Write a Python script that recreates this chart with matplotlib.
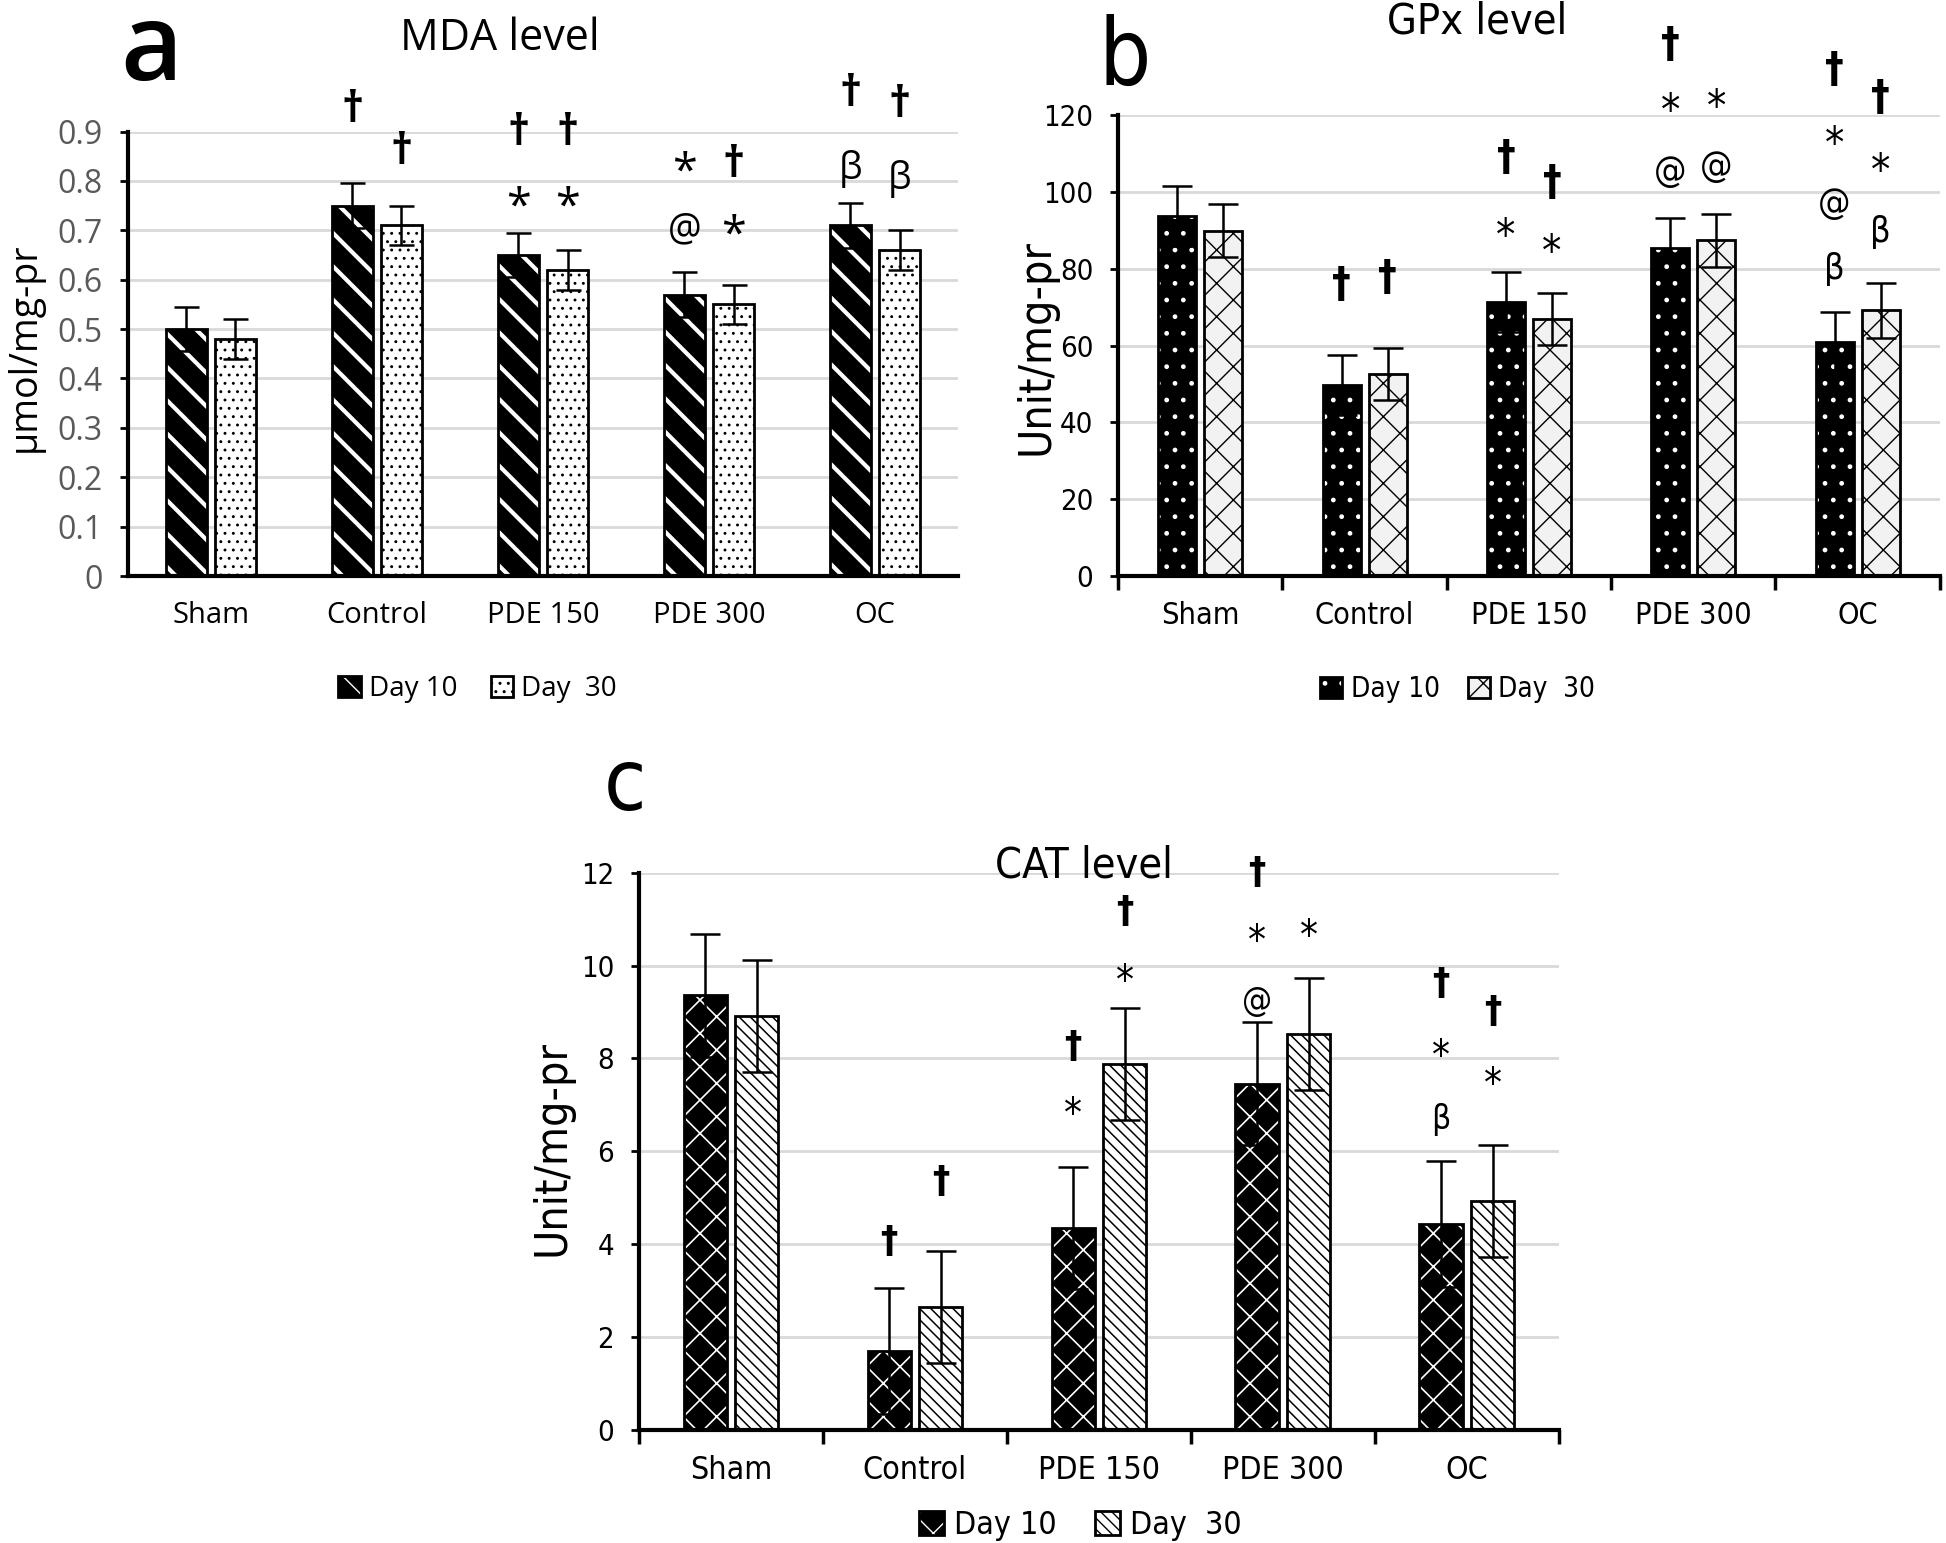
import numpy as np
import matplotlib.pyplot as plt
from matplotlib.patches import Patch
from matplotlib.font_manager import FontProperties

groups = ["Sham", "Control", "PDE 150", "PDE 300", "OC"]
days = ["Day 10", "Day  30"]

# MDA (umol/mg-pr)
mda_d10 = [0.50, 0.75, 0.65, 0.57, 0.71]
mda_d30 = [0.48, 0.71, 0.62, 0.55, 0.66]
mda_err10 = [0.045, 0.045, 0.045, 0.045, 0.045]
mda_err30 = [0.04, 0.04, 0.04, 0.04, 0.04]
mda_ticks = ["0", "0.1", "0.2", "0.3", "0.4", "0.5", "0.6", "0.7", "0.8", "0.9"]

# GPx (unit/mg-pr)
gpx_d10 = [93.7, 49.8, 71.4, 85.4, 61.0]
gpx_d30 = [89.9, 52.6, 67.0, 87.5, 69.2]
gpx_err10 = [7.8, 7.8, 7.9, 7.9, 7.8]
gpx_err30 = [6.9, 6.8, 6.8, 6.9, 7.1]

# CAT (unit/mg-pr)
cat_d10 = [9.36, 1.70, 4.35, 7.46, 4.44]
cat_d30 = [8.92, 2.65, 7.88, 8.53, 4.93]
cat_err10 = [1.33, 1.35, 1.31, 1.33, 1.35]
cat_err30 = [1.21, 1.21, 1.21, 1.21, 1.21]

# significance marks: (group, day, symbol, y)
mda_marks = [(1, 0, "†", 0.942), (1, 1, "†", 0.858),
             (2, 0, "†", 0.896), (2, 0, "*", 0.770), (2, 1, "†", 0.896), (2, 1, "*", 0.770),
             (3, 0, "*", 0.840), (3, 0, "@", 0.700), (3, 1, "†", 0.832), (3, 1, "*", 0.712),
             (4, 0, "†", 0.975), (4, 0, "β", 0.824), (4, 1, "†", 0.952), (4, 1, "β", 0.805)]
gpx_marks = [(1, 0, "†", 75.8), (1, 1, "†", 77.6),
             (2, 0, "†", 108.9), (2, 0, "*", 91.5), (2, 1, "†", 102.3), (2, 1, "*", 87.2),
             (3, 0, "†", 138.4), (3, 0, "*", 124.0), (3, 0, "@", 105.3),
             (3, 1, "*", 125.2), (3, 1, "@", 106.5),
             (4, 0, "†", 131.8), (4, 0, "*", 115.5), (4, 0, "@", 96.9), (4, 0, "β", 80.0),
             (4, 1, "†", 124.5), (4, 1, "*", 108.3), (4, 1, "β", 89.6)]
cat_marks = [(1, 0, "†", 4.04), (1, 1, "†", 5.34),
             (2, 0, "†", 8.25), (2, 0, "*", 7.0), (2, 1, "†", 11.16), (2, 1, "*", 9.87),
             (3, 0, "†", 12.0), (3, 0, "*", 10.73), (3, 0, "@", 9.22), (3, 1, "*", 10.84),
             (4, 0, "†", 9.6), (4, 0, "*", 8.25), (4, 0, "β", 6.68),
             (4, 1, "†", 9.0), (4, 1, "*", 7.65)]


def fp(family, size, stretch="normal", weight="normal"):
    return FontProperties(family=family, size=size, stretch=stretch, weight=weight)


FA = "Open Sans"
FB = "DejaVu Sans"
SB = "condensed"

fig = plt.figure(figsize=(19.46, 15.43), dpi=100)


def hatched(ax, x, h, w, face, hcol, hatch, hlw):
    with plt.rc_context({"hatch.linewidth": hlw}):
        ax.bar(x, h, w, color=face, edgecolor=hcol, hatch=hatch, linewidth=0, zorder=2)
    ax.bar(x, h, w, fill=False, edgecolor="black", linewidth=2, zorder=3)


def legend_handle(face, hcol, hatch, hlw):
    with plt.rc_context({"hatch.linewidth": hlw}):
        p = Patch(facecolor=face, edgecolor=hcol, hatch=hatch, linewidth=0)
    return (p, Patch(fill=False, edgecolor="black", linewidth=2))


def panel(rect, d10, d30, e10, e30, marks, styles, ymax, ystep, offs, width,
          font, stretch, xsize, ysize, msize, tickcol, minor, cap, yticklabels=None):
    ax = fig.add_axes(rect)
    x = np.arange(len(groups))
    hatched(ax, x + offs[0], d10, width, *styles[0])
    hatched(ax, x + offs[1], d30, width, *styles[1])
    for o, v, e in [(offs[0], d10, e10), (offs[1], d30, e30)]:
        ax.errorbar(x + o, v, yerr=e, fmt="none", ecolor="black", elinewidth=1.8,
                    capsize=cap, capthick=1.8, zorder=4)
    ax.set_xlim(-0.5, len(groups) - 0.5)
    ax.set_ylim(0, ymax)
    ax.set_yticks(np.arange(0, ymax + ystep / 2, ystep))
    if yticklabels is not None:
        ax.set_yticklabels(yticklabels)
    ax.set_xticks(x)
    ax.set_xticklabels(groups)
    for t in ax.get_xticklabels():
        t.set_fontproperties(fp(font, xsize, stretch))
    for t in ax.get_yticklabels():
        t.set_fontproperties(fp(font, ysize, stretch))
        t.set_color(tickcol)
    ax.yaxis.grid(True, color="#d9d9d9", lw=2)
    ax.set_axisbelow(True)
    for s in ["top", "right"]:
        ax.spines[s].set_visible(False)
    for s in ["left", "bottom"]:
        ax.spines[s].set_linewidth(3)
    ax.tick_params(axis="y", length=6, width=2, pad=12)
    ax.tick_params(axis="x", which="major", length=0, pad=18)
    if minor:
        ax.set_xticks(np.arange(-0.5, len(groups)), minor=True)
        ax.tick_params(axis="x", which="minor", length=10, width=2.5)
    for g, day, sym, y in marks:
        wt = "bold" if sym == "†" else "normal"
        sz = msize * {"†": 1.15, "*": 1.2}.get(sym, 1.0)
        dy = -0.28 * sz if sym == "*" else 0
        ax.annotate(sym, (g + offs[day], y), xytext=(0, dy), textcoords="offset points",
                    ha="center", va="center", fontproperties=fp(font, sz, stretch, wt),
                    annotation_clip=False)
    return ax


# panel a
sty_a = [("black", "white", "\\", 3.0), ("white", "black", "..", 0.9)]
panel([0.0657, 0.6267, 0.4266, 0.2880], mda_d10, mda_d30, mda_err10, mda_err30,
      mda_marks, sty_a, 0.9, 0.1, (-0.148, 0.148), 0.245, FA, "normal", 21, 23, 27,
      "#595959", False, 9, mda_ticks)
fig.text(0.0128, 0.775, "µmol/mg-pr", rotation=90, ha="center", va="center",
         fontproperties=fp(FA, 27))
fig.text(0.257, 0.975, "MDA level", ha="center", va="center", fontproperties=fp(FA, 31))
fig.text(0.0775, 0.966, "a", ha="center", va="center",
         fontproperties=fp(FA, 77, weight="semibold"))
fig.legend([legend_handle(*s) for s in sty_a], days, loc="center",
           bbox_to_anchor=(0.2455, 0.5535), ncol=2, frameon=False, handlelength=0.8,
           handleheight=0.8, handletextpad=0.3, columnspacing=1.2, prop=fp(FA, 20))

# panel b
sty_b = [("black", "white", ".", 1.0), ("#f2f2f2", "black", "x", 1.0)]
panel([0.5746, 0.6267, 0.4222, 0.2985], gpx_d10, gpx_d30, gpx_err10, gpx_err30,
      gpx_marks, sty_b, 120, 20, (-0.14, 0.14), 0.23, FB, SB, 22, 21, 26, "black", True, 11)
fig.text(0.5325, 0.775, "Unit/mg-pr", rotation=90, ha="center", va="center",
         fontproperties=fp(FB, 32, SB))
fig.text(0.759, 0.986, "GPx level", ha="center", va="center", fontproperties=fp(FB, 31, SB))
fig.text(0.578, 0.962, "b", ha="center", va="center", fontproperties=fp(FB, 66, SB))
fig.legend([legend_handle(*s) for s in sty_b], days, loc="center",
           bbox_to_anchor=(0.749, 0.5535), ncol=2, frameon=False, handlelength=0.8,
           handleheight=0.8, handletextpad=0.3, columnspacing=1.0, prop=fp(FB, 20, SB))

# panel c
sty_c = [("black", "white", "x", 1.2), ("white", "black", "\\\\\\", 1.1)]
panel([0.3284, 0.0732, 0.4726, 0.3612], cat_d10, cat_d30, cat_err10, cat_err30,
      cat_marks, sty_c, 12, 2, (-0.14, 0.14), 0.235, FB, SB, 23, 21, 24, "black", True, 11)
fig.text(0.2838, 0.256, "Unit/mg-pr", rotation=90, ha="center", va="center",
         fontproperties=fp(FB, 32, SB))
fig.text(0.557, 0.4393, "CAT level", ha="center", va="center", fontproperties=fp(FB, 31, SB))
fig.text(0.321, 0.49, "c", ha="center", va="center", fontproperties=fp(FB, 62, SB))
fig.legend([legend_handle(*s) for s in sty_c], days, loc="center",
           bbox_to_anchor=(0.555, 0.0113), ncol=2, frameon=False, handlelength=0.8,
           handleheight=0.8, handletextpad=0.3, columnspacing=1.2, prop=fp(FB, 23, SB))

fig.savefig("out.png", dpi=100)
